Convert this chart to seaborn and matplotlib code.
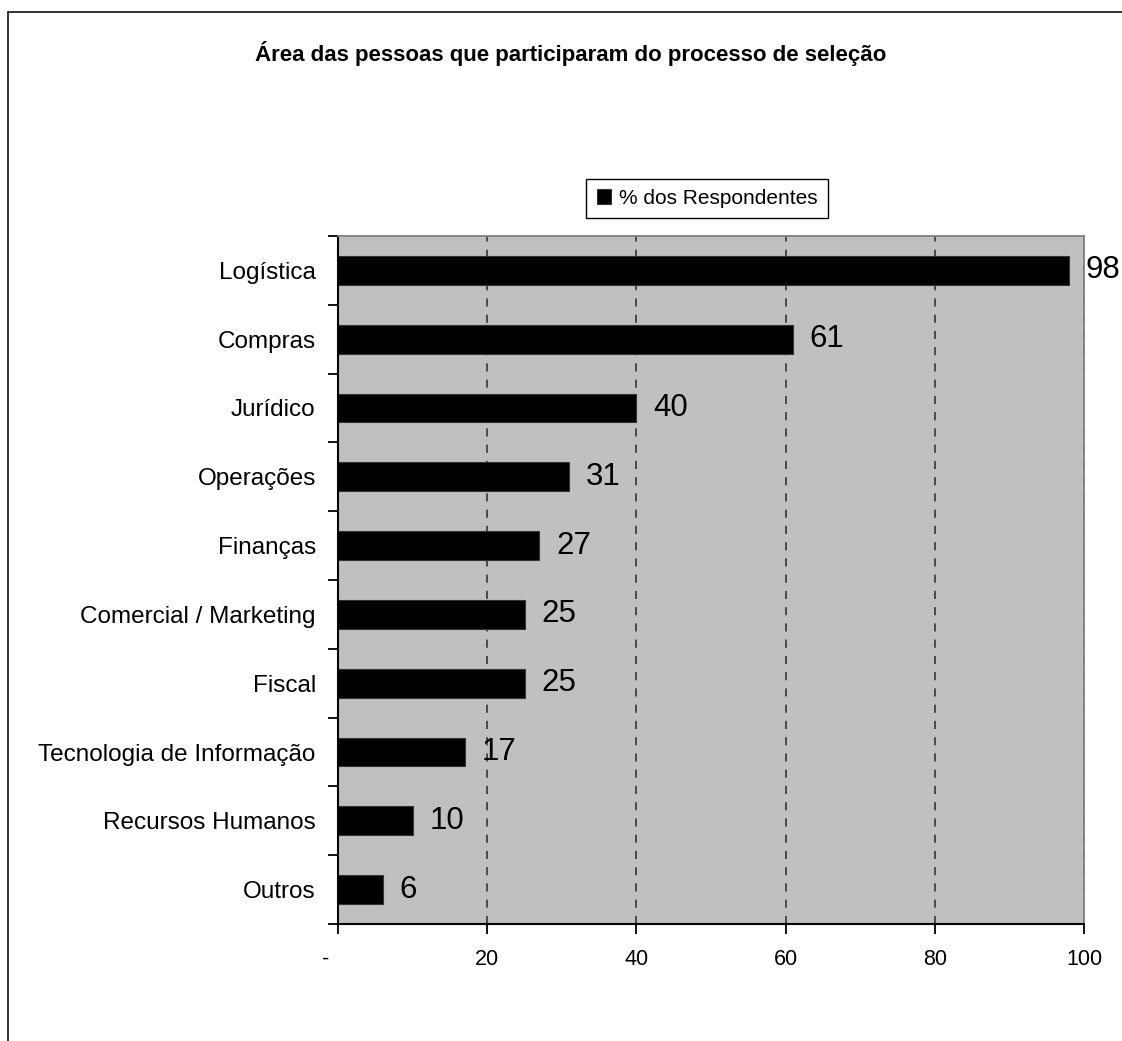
import matplotlib
matplotlib.use("Agg")
import matplotlib.pyplot as plt
from matplotlib.lines import Line2D
import seaborn as sns
import pandas as pd

title = "Área das pessoas que participaram do processo de seleção"
series_name = "% dos Respondentes"
categories = ["Logística", "Compras", "Jurídico", "Operações", "Finanças",
              "Comercial / Marketing", "Fiscal", "Tecnologia de Informação",
              "Recursos Humanos", "Outros"]
values = [98, 61, 40, 31, 27, 25, 25, 17, 10, 6]
x_ticks = [0, 20, 40, 60, 80, 100]
x_tick_labels = ["-    ", "20", "40", "60", "80", "100"]

sns.set_style("white")
plt.rcParams["font.family"] = ["Liberation Sans", "DejaVu Sans"]
plt.rcParams["text.color"] = "black"
plt.rcParams["xtick.color"] = "black"
plt.rcParams["ytick.color"] = "black"
plt.rcParams["xtick.labelcolor"] = "black"
plt.rcParams["ytick.labelcolor"] = "black"

df = pd.DataFrame({"area": categories, "pct": values})

W, H = 1122, 1041
fig = plt.figure(figsize=(W / 100, H / 100), dpi=100)
ax = fig.add_axes([338 / W, 1 - 924 / H, (1084 - 338) / W, (924 - 236) / H])
ax.set_facecolor("#C0C0C0")

sns.barplot(data=df, x="pct", y="area", orient="h", color="black",
            width=0.42, saturation=1, ax=ax, label=series_name,
            edgecolor="#333333", linewidth=0.8)

ax.set_xlim(0, 100)
ax.set_ylim(len(categories) - 0.5, -0.5)
ax.set_xlabel("")
ax.set_ylabel("")

ax.set_axisbelow(True)
ax.xaxis.grid(True, linestyle=(0, (4.5, 4.5)), color="#404040", linewidth=1.3)
ax.yaxis.grid(False)

ax.set_xticks(x_ticks)
ax.set_xticklabels(x_tick_labels, fontsize=15.5, color="black")
ax.tick_params(axis="x", direction="out", length=7, width=1.3, color="black",
               pad=11, bottom=True)

ax.set_yticks(range(len(categories)))
ax.set_yticklabels(categories, fontsize=17.5, color="black")
ax.set_yticks([i - 0.5 for i in range(len(categories) + 1)], minor=True)
ax.tick_params(axis="y", which="major", length=0, pad=16)
ax.tick_params(axis="y", which="minor", direction="out", length=7, width=1.3,
               color="black", left=True)

for side in ["top", "right"]:
    ax.spines[side].set_color("#808080")
    ax.spines[side].set_linewidth(1.3)
for side in ["left", "bottom"]:
    ax.spines[side].set_color("black")
    ax.spines[side].set_linewidth(1.5)

for i, v in enumerate(values):
    ax.annotate(f"{v}", xy=(v, i), xytext=(12, 0), textcoords="offset points",
                ha="left", va="center", fontsize=22.5, color="black",
                annotation_clip=False)

leg = ax.legend(loc="center", bbox_to_anchor=(707 / W, 1 - 198.5 / H),
                bbox_transform=fig.transFigure, fontsize=15, frameon=True,
                fancybox=False, framealpha=1, edgecolor="black",
                handlelength=0.7, handleheight=0.7, handletextpad=0.35,
                borderpad=0.5, borderaxespad=0)
leg.get_frame().set_linewidth(1.0)
for t in leg.get_texts():
    t.set_color("black")

fig.text(571 / W, 1 - 54 / H, title, ha="center", va="center",
         fontsize=16, fontweight="bold", color="black")

fig.add_artist(Line2D([8 / W, 8 / W], [0, 1 - 12 / H], color="#222222",
                      linewidth=1.3, transform=fig.transFigure))
fig.add_artist(Line2D([8 / W, 1], [1 - 12 / H, 1 - 12 / H], color="#222222",
                      linewidth=1.3, transform=fig.transFigure))

fig.savefig("out.png", dpi=100)
